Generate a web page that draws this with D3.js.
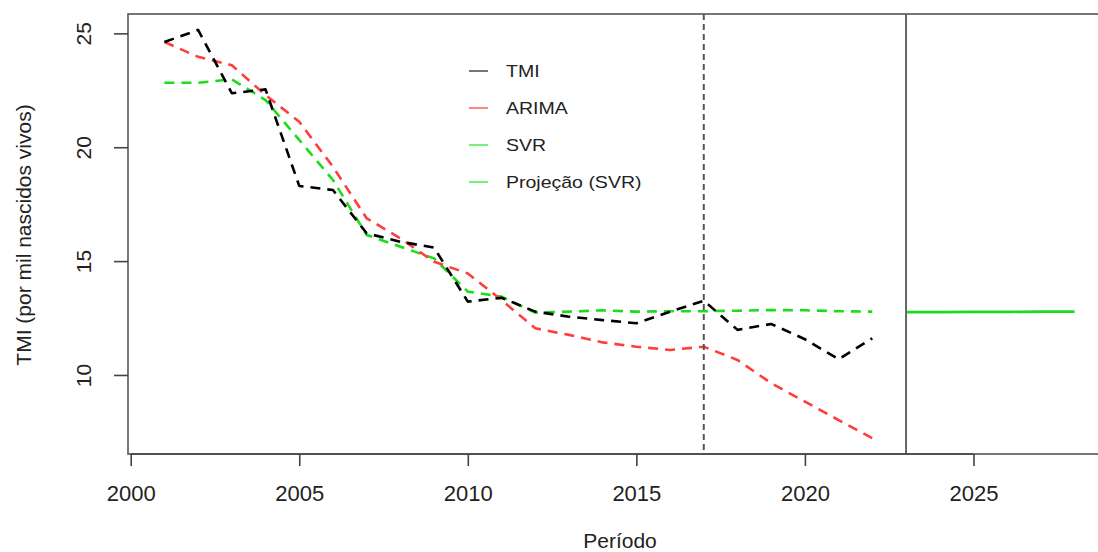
<!DOCTYPE html>
<html>
<head>
<meta charset='utf-8'>
<title>TMI</title>
<script src='https://cdn.jsdelivr.net/npm/d3@7'></script>
<style>
  body {margin:0; background:#fff;}
  svg text {font-family:'Liberation Sans',Arial,sans-serif; fill:#222;}
</style>
</head>
<body>
<svg id='chart' width='1098' height='552'></svg>
<script>
// anos observados e projetados
var years=d3.range(2001,2023),
    projYears=d3.range(2023,2029);
var tmi=[24.62,25.15,22.37,22.54,18.30,18.12,16.22,15.85,15.59,13.22,13.39,
         12.78,12.56,12.41,12.27,12.78,13.26,11.98,12.24,11.57,10.69,11.61];
var arima=[24.62,23.97,23.60,22.29,21.12,19.14,16.88,16.00,14.97,14.46,13.29,
           12.05,11.76,11.43,11.24,11.10,11.24,10.66,9.64,8.83,8.02,7.22];
var svr=[22.83,22.83,22.98,22.07,20.32,18.56,16.15,15.63,15.12,13.66,13.44,
         12.74,12.78,12.84,12.78,12.80,12.80,12.82,12.85,12.84,12.80,12.78];
var proj=[12.76,12.76,12.77,12.77,12.78,12.78];
var xTicks=[2000,2005,2010,2015,2020,2025],
    yTicks=[10,15,20,25];
var cutTest=2017, cutProj=2023;
var legendLabels=['TMI','ARIMA','SVR','Projeção (SVR)'],
    legendColors=['#555','#f66','#5e5','#5e5'];

var svg=d3.select('#chart'),
    L=128,T=14,B=454,R=1111;
var x=d3.scaleLinear().domain([1999.92,2029.08]).range([L,R]);
var y=d3.scaleLinear().domain([6.53,25.85]).range([B,T]);

function series(vals,xs,color,dash){
  var line=d3.line().x(function(d,i){return x(xs[i]);}).y(function(d){return y(d);});
  svg.append('path').datum(vals).attr('d',line)
     .attr('fill','none').attr('stroke',color).attr('stroke-width',2.6)
     .attr('stroke-dasharray',dash).attr('stroke-linejoin','round');
}
series(svr,years,'#1add1a','10,7');
series(arima,years,'#ff3d3d','10,7');
series(tmi,years,'#000','10,7');
series(proj,projYears,'#1add1a',null);

// linhas verticais
svg.append('line').attr('x1',x(cutTest)).attr('x2',x(cutTest))
   .attr('y1',T).attr('y2',B).attr('stroke','#555').attr('stroke-width',2)
   .attr('stroke-dasharray','6,4');
svg.append('line').attr('x1',x(cutProj)).attr('x2',x(cutProj))
   .attr('y1',T).attr('y2',B).attr('stroke','#666').attr('stroke-width',2);

// caixa
svg.append('rect').attr('x',L).attr('y',T).attr('width',R-L).attr('height',B-T)
   .attr('fill','none').attr('stroke','#555').attr('stroke-width',1.6);

// eixos
var gx=svg.append('g').attr('transform','translate(0,'+B+')')
   .call(d3.axisBottom(x).tickValues(xTicks).tickFormat(d3.format('d'))
         .tickSize(12).tickPadding(19).tickSizeOuter(0));
gx.select('.domain').attr('d','M'+x(2000)+',0H'+x(2025)).attr('stroke','#444').attr('stroke-width',1.6);
gx.selectAll('line').attr('stroke','#444').attr('stroke-width',1.6);
gx.selectAll('text').attr('font-size',22).style('font-family','Liberation Sans,Arial,sans-serif');

var gy=svg.append('g').attr('transform','translate('+L+',0)')
   .call(d3.axisLeft(y).tickValues(yTicks).tickSize(14).tickSizeOuter(0));
gy.select('.domain').remove();
gy.selectAll('line').attr('stroke','#444').attr('stroke-width',1.6);
gy.selectAll('text').attr('font-size',21).attr('text-anchor','middle')
  .attr('x',null).style('font-family','Liberation Sans,Arial,sans-serif')
  .attr('transform','translate(-44,0) rotate(-90)').attr('dy','0.35em');

svg.append('text').attr('x',620).attr('y',548).attr('text-anchor','middle')
   .attr('font-size',21).text('Período');
svg.append('text').attr('transform','translate(31,235) rotate(-90)')
   .attr('text-anchor','middle').attr('font-size',21)
   .text('TMI (por mil nascidos vivos)');

// legenda
var lg=svg.append('g').selectAll('g').data(legendLabels).enter().append('g')
   .attr('transform',function(d,i){return 'translate(469,'+(71+i*37)+')';});
lg.append('line').attr('x1',0).attr('x2',19).attr('stroke',function(d,i){return legendColors[i];})
  .attr('stroke-width',1.6);
lg.append('text').attr('transform','translate(37,0) scale(1.22,1)').attr('dy','0.35em')
  .attr('font-size',16).text(function(d){return d;});
</script>
</body>
</html>
